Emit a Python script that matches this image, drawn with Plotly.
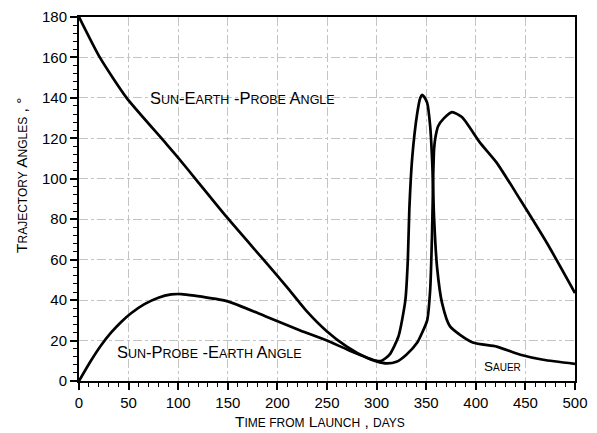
import plotly.graph_objects as go

# Sun-Earth-Probe angle (descends, then broad second peak)
sep_days = [0, 21, 48, 85, 99, 119, 149, 186, 209, 229, 250, 270, 290, 300,
            310, 320, 330, 341, 346, 351, 354, 356, 357, 358, 359.5, 362,
            368, 376, 386, 404, 421, 445, 472, 500]
sep_deg = [180, 160, 140, 119, 111, 99, 81, 60, 46.8, 34.8, 24.5, 17, 11.5, 9.7,
           8.7, 9.5, 13, 19, 24, 30, 45, 75, 100, 115, 121, 126,
           130, 133, 130.5, 118, 108, 89.5, 68, 43.5]

# Sun-Probe-Earth angle (hump, then sharp spike)
spe_days = [0, 12, 22.5, 32.5, 42.5, 52.5, 66, 80, 93, 103, 116.5, 149, 189, 223, 250,
            273, 300, 305, 313, 322, 329, 331.5, 333, 336, 341, 344, 346,
            348, 351, 354, 356, 357, 358, 361, 366, 374, 397, 421, 445, 468, 500]
spe_deg = [0, 10, 17.8, 24, 29.2, 33.5, 38, 41.2, 42.8, 43, 42.2, 39.5, 31.8, 25, 20,
           15, 10, 10, 13, 22, 40, 60, 85, 111, 132.5, 140, 141.5,
           140.5, 137.5, 126, 109, 95, 80, 56, 38.5, 27, 19, 17, 13, 10.5, 8.5]

x_ticks = list(range(0, 501, 50))
y_ticks = list(range(0, 181, 20))

FONT = "Liberation Sans, Arial, Helvetica, sans-serif"

# page body has an 8px margin; compensate so the plot lands where the reference has it
PAGE_OFF = 8

fig = go.Figure()
fig.add_trace(go.Scatter(x=sep_days, y=sep_deg, mode="lines",
                         line=dict(color="black", width=2.7, shape="spline", smoothing=0.6),
                         name="SEP", showlegend=False))
fig.add_trace(go.Scatter(x=spe_days, y=spe_deg, mode="lines",
                         line=dict(color="black", width=2.7, shape="spline", smoothing=0.6),
                         name="SPE", showlegend=False))

axis_common = dict(
    showline=True, linecolor="black", linewidth=2, mirror=True,
    ticks="outside", ticklen=7, tickwidth=1.5, tickcolor="black",
    showgrid=True, gridcolor="#c4c4c4", gridwidth=1, griddash="dashdot",
    zeroline=False, automargin=False,
    tickfont=dict(family=FONT, size=15, color="black"),
)

fig.update_xaxes(range=[0, 500], tickvals=x_ticks,
                 minor=dict(dtick=10, ticks="outside", ticklen=4,
                            tickcolor="black", tickwidth=1.2, showgrid=False),
                 **axis_common)
fig.update_yaxes(range=[0, 180], tickvals=y_ticks,
                 minor=dict(dtick=4, ticks="outside", ticklen=4,
                            tickcolor="black", tickwidth=1.2, showgrid=False),
                 **axis_common)

S = "<span style='font-size:12.5px'>"
E = "</span>"
annos = [
    dict(x=70, y=140, xref="x", yref="y", xanchor="left", yanchor="middle",
         text=f"S{S}UN{E}-E{S}ARTH{E} -P{S}ROBE{E} A{S}NGLE{E}",
         font=dict(family=FONT, size=16.5, color="black"), showarrow=False),
    dict(x=36, y=14.5, xref="x", yref="y", xanchor="left", yanchor="middle",
         text=f"S{S}UN{E}-P{S}ROBE{E} -E{S}ARTH{E} A{S}NGLE{E}",
         font=dict(family=FONT, size=16.5, color="black"), showarrow=False),
    dict(x=406, y=7.4, xref="x", yref="y", xanchor="left", yanchor="middle",
         text="S<span style='font-size:10px'>AUER</span>",
         font=dict(family=FONT, size=13.5, color="black"), showarrow=False),
    dict(x=-0.115, y=0.566, xref="paper", yref="paper", xanchor="center", yanchor="middle",
         textangle=-90,
         text="T<span style='font-size:12px'>RAJECTORY</span> A<span style='font-size:12px'>NGLES</span> , °",
         font=dict(family=FONT, size=15.5, color="black"), showarrow=False),
    dict(x=0.486, y=-0.11, xref="paper", yref="paper", xanchor="center", yanchor="middle",
         text="T<span style='font-size:12px'>IME FROM</span> L<span style='font-size:12px'>AUNCH</span> , <span style='font-size:12px'>DAYS</span>",
         font=dict(family=FONT, size=15.5, color="black"), showarrow=False),
]

fig.update_layout(
    width=597 - PAGE_OFF, height=433 - PAGE_OFF,
    margin=dict(l=79 - PAGE_OFF, r=22, t=17 - PAGE_OFF, b=52),
    paper_bgcolor="white", plot_bgcolor="white",
    annotations=annos, showlegend=False,
    font=dict(family=FONT, color="black"),
)

fig.write_html("out.html")
